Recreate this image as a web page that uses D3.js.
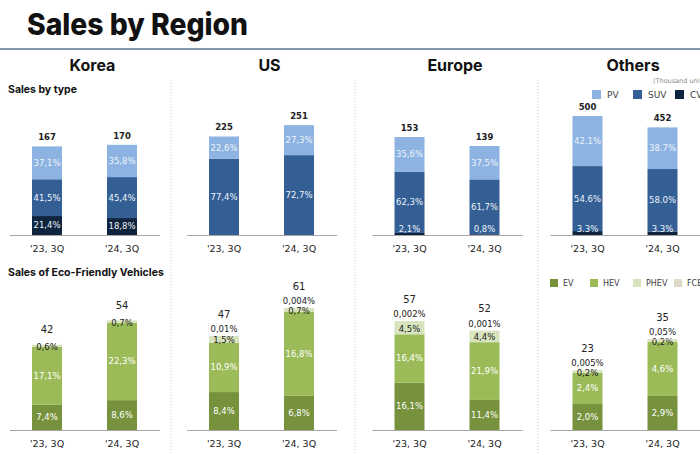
<!DOCTYPE html>
<html>
<head>
<meta charset="utf-8">
<script src="https://cdn.jsdelivr.net/npm/d3@7"></script>
<style>
  html, body { margin: 0; padding: 0; background: #ffffff; }
  svg { display: block; }
</style>
</head>
<body>
<svg id="chart" width="700" height="455"></svg>
<script>
// ---------------- DATA ----------------
const regions = ["Korea", "US", "Europe", "Others"];
const periods = ["'23, 3Q", "'24, 3Q"];

// Sales by type (thousand units) and shares (%)
const typeKeys = ["CV", "SUV", "PV"];            // stacked bottom -> top
const typeTotals = [[167, 170], [225, 251], [153, 139], [500, 452]];
const cvShare  = [[21.4, 18.8], [0, 0],       [2.1, 0.8],   [3.3, 3.3]];
const suvShare = [[41.5, 45.4], [77.4, 72.7], [62.3, 61.7], [54.6, 58.0]];
const pvShare  = [[37.1, 35.8], [22.6, 27.3], [35.6, 37.5], [42.1, 38.7]];

// Sales of eco-friendly vehicles (thousand units) and shares of total sales (%)
const ecoKeys = ["EV", "HEV", "PHEV", "FCEV"];   // stacked bottom -> top
const ecoTotals = [[42, 54], [47, 61], [57, 52], [23, 35]];
const evShare   = [[7.4, 8.6],  [8.4, 6.8],   [16.1, 11.4],   [2.0, 2.9]];
const hevShare  = [[17.1, 22.3], [10.9, 16.8], [16.4, 21.9],  [2.4, 4.6]];
const phevShare = [[0.6, 0.7],  [1.5, 0.7],   [4.5, 4.4],     [0.2, 0.2]];
const fcevShare = [[null, null], [0.01, 0.004], [0.002, 0.001], [0.005, 0.05]];

// per-panel value-axis maxima (scale domains)
const typeScaleMax = [245, 297, 203, 546];
const ecoScaleMax  = [64, 65, 68, 50];
// decimal separators as printed
const typeSep = [",", ",", ",", "."];
const ecoSep  = [",", ",", ",", ","];

// ---------------- STYLE / LAYOUT ----------------
const typeColors = { PV: "#8db3e2", SUV: "#335f95", CV: "#0f243e" };
const ecoColors  = { EV: "#76923c", HEV: "#9bbb59", PHEV: "#d7e4bd", FCEV: "#ddd9c4" };
const headFont = "Inter, 'Noto Sans', sans-serif";
const numFont = "'DejaVu Sans', Verdana, sans-serif";

const panelX = [9.5, 186.5, 372, 550];
const panelW = 150;
const sepX = [171, 355, 538];
const typeBase = 235, ecoBase = 430, plotH = 130;

const svg = d3.select("#chart");

// Title
svg.append("text").attr("x", 27).attr("y", 35)
  .attr("font-family", headFont).attr("font-weight", 800).attr("font-size", 30)
  .attr("fill", "#111").attr("textLength", 221).attr("lengthAdjust", "spacingAndGlyphs")
  .text("Sales by Region");

svg.append("line").attr("x1", 0).attr("x2", 700).attr("y1", 49).attr("y2", 49)
  .attr("stroke", "#8496b0").attr("stroke-width", 2);

// separators
sepX.forEach(x => {
  svg.append("line").attr("x1", x).attr("x2", x).attr("y1", 80).attr("y2", 455)
    .attr("stroke", "#c4c4c4").attr("stroke-width", 1).attr("stroke-dasharray", "1,2");
});

// Region headings
regions.forEach((r, i) => {
  svg.append("text").attr("x", panelX[i] + 83).attr("y", 71)
    .attr("text-anchor", "middle").attr("font-family", headFont)
    .attr("font-weight", 700).attr("font-size", 16).attr("fill", "#111").text(r);
});

// Section headings
svg.append("text").attr("x", 8).attr("y", 93).attr("font-family", headFont)
  .attr("font-weight", 700).attr("font-size", 10.5).attr("fill", "#111").text("Sales by type");
svg.append("text").attr("x", 8).attr("y", 276).attr("font-family", headFont)
  .attr("font-weight", 700).attr("font-size", 10.5).attr("fill", "#111").text("Sales of Eco-Friendly Vehicles");

// unit note
svg.append("text").attr("x", 653).attr("y", 83).attr("font-family", numFont)
  .attr("font-size", 6.5).attr("fill", "#8a8a8a").text("(Thousand units)");

// Legends
const typeLegendX = [592, 633, 675];
["PV", "SUV", "CV"].forEach((k, i) => {
  svg.append("rect").attr("x", typeLegendX[i]).attr("y", 90).attr("width", 9).attr("height", 9)
    .attr("fill", typeColors[k]);
  svg.append("text").attr("x", typeLegendX[i] + 15).attr("y", 98).attr("font-family", numFont)
    .attr("font-size", 9).attr("fill", "#404040").text(k);
});
const ecoLegendX = [550, 590, 633, 674];
ecoKeys.forEach((k, i) => {
  svg.append("rect").attr("x", ecoLegendX[i]).attr("y", 279).attr("width", 8).attr("height", 8)
    .attr("fill", ecoColors[k]);
  svg.append("text").attr("x", ecoLegendX[i] + 13).attr("y", 286).attr("font-family", numFont)
    .attr("font-size", 8).attr("fill", "#404040").text(k);
});

function fmt(v, sep) {
  const s = v >= 0.1 ? v.toFixed(1) : String(v);
  return s.replace(".", sep) + "%";
}

function drawAxis(g, x, base) {
  const ax = g.append("g").attr("transform", `translate(0,${base})`)
    .call(d3.axisBottom(x).tickSize(0).tickSizeOuter(0).tickPadding(10));
  ax.select(".domain").attr("stroke", "#a6a6a6").attr("stroke-width", 1);
  ax.selectAll("text").attr("font-family", numFont).attr("font-size", 9.5).attr("fill", "#222");
}

regions.forEach((r, i) => {
  const g = svg.append("g").attr("transform", `translate(${panelX[i]},0)`);
  const x = d3.scaleBand().domain(periods).range([0, panelW]).paddingInner(0.6).paddingOuter(0.3);

  // ---- Sales by type ----
  const yT = d3.scaleLinear().domain([0, typeScaleMax[i]]).range([typeBase, typeBase - plotH]);
  const typeRows = periods.map((p, j) => ({
    period: p, total: typeTotals[i][j],
    CV: cvShare[i][j], SUV: suvShare[i][j], PV: pvShare[i][j]
  }));
  const labelsT = [];
  typeRows.forEach(d => {
    let acc = 0;
    typeKeys.forEach(k => {
      const share = d[k];
      const v0 = d.total * acc / 100, v1 = d.total * (acc + share) / 100;
      acc += share;
      if (share <= 0) return;
      const y0 = yT(v0), y1 = yT(v1);
      g.append("rect").attr("x", x(d.period)).attr("width", x.bandwidth())
        .attr("y", y1).attr("height", y0 - y1).attr("fill", typeColors[k]);
      const h = y0 - y1;
      const ly = h < 12 ? typeBase - 6 : (y0 + y1) / 2;
      labelsT.push({ x: x(d.period) + x.bandwidth() / 2, y: ly, t: fmt(share, typeSep[i]) });
    });
    labelsT.push({ x: x(d.period) + x.bandwidth() / 2, y: yT(d.total) - 9, t: d.total, total: true });
  });
  drawAxis(g, x, typeBase);
  labelsT.forEach(l => {
    g.append("text").attr("x", l.x).attr("y", l.y).attr("dy", "0.35em")
      .attr("text-anchor", "middle").attr("font-family", numFont).attr("font-size", 8.5)
      .attr("font-weight", l.total ? 700 : 400)
      .attr("fill", l.total ? "#222" : "#eef3fa").text(l.t);
  });

  // ---- Eco-friendly ----
  const yE = d3.scaleLinear().domain([0, ecoScaleMax[i]]).range([ecoBase, ecoBase - plotH]);
  const ecoRows = periods.map((p, j) => ({
    period: p, total: ecoTotals[i][j],
    EV: evShare[i][j], HEV: hevShare[i][j], PHEV: phevShare[i][j], FCEV: fcevShare[i][j]
  }));
  ecoRows.forEach(d => {
    const sum = ecoKeys.reduce((s, k) => s + (d[k] || 0), 0);
    let acc = 0;
    const cx = x(d.period) + x.bandwidth() / 2;
    ecoKeys.forEach(k => {
      const share = d[k] || 0;
      const v0 = d.total * acc / sum, v1 = d.total * (acc + share) / sum;
      acc += share;
      if (share <= 0) return;
      const y0 = yE(v0), y1 = yE(v1);
      g.append("rect").attr("x", x(d.period)).attr("width", x.bandwidth())
        .attr("y", y1).attr("height", Math.max(0, y0 - y1)).attr("fill", ecoColors[k]);
      if (k === "EV" || k === "HEV") {
        g.append("text").attr("x", cx).attr("y", (y0 + y1) / 2).attr("dy", "0.35em")
          .attr("text-anchor", "middle").attr("font-family", numFont).attr("font-size", 8.5)
          .attr("fill", "#ffffff").text(fmt(share, ecoSep[i]));
      } else if (k === "PHEV") {
        g.append("text").attr("x", cx).attr("y", (y0 + y1) / 2 + 1).attr("dy", "0.35em")
          .attr("text-anchor", "middle").attr("font-family", numFont).attr("font-size", 8.5)
          .attr("fill", "#222").text(fmt(share, ecoSep[i]));
      }
    });
    const top = yE(d.total);
    const hasF = d.FCEV != null;
    if (hasF) {
      g.append("text").attr("x", cx).attr("y", top - 7).attr("dy", "0.35em")
        .attr("text-anchor", "middle").attr("font-family", numFont).attr("font-size", 8.5)
        .attr("fill", "#222").text(fmt(d.FCEV, ecoSep[i]));
    }
    g.append("text").attr("x", cx).attr("y", top - (hasF ? 22 : 15)).attr("dy", "0.35em")
      .attr("text-anchor", "middle").attr("font-family", numFont).attr("font-size", 10)
      .attr("fill", "#222").text(d.total);
  });
  drawAxis(g, x, ecoBase);
});
</script>
</body>
</html>
